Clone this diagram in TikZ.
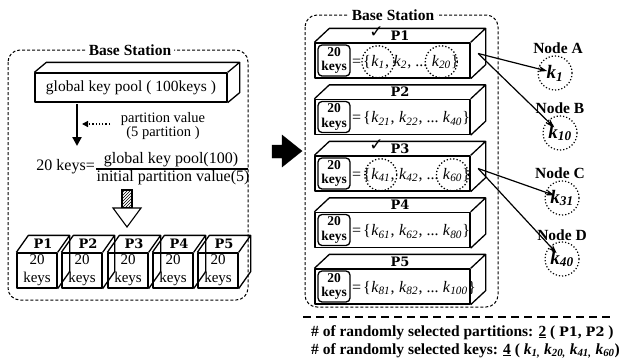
\documentclass[tikz,border=0pt]{standalone}
\usepackage{fontspec}
\setmainfont{Liberation Serif}
\newfontfamily\slabfont{DejaVu Serif}
\newfontfamily\symfont{DejaVu Sans}
\usetikzlibrary{arrows.meta,calc,patterns}

\newcommand\kk[1]{\textit{k}\textsubscript{\textit{#1}}}
\newcommand\bk[1]{\textbf{\textit{k}\textsubscript{\textit{#1}}}}
\newcommand\fs[1]{\fontsize{#1}{#1}\selectfont}

% top and right faces behind a front-face node
\newcommand\depthfaces[3]{%
  \draw[face] (#1.north west) -- ++(#2,#3) -- ($(#1.north east)+(#2,#3)$) -- (#1.north east);
  \draw[face] ($(#1.north east)+(#2,#3)$) -- ($(#1.south east)+(#2,#3)$) -- (#1.south east);
}

% "= {k_a, k_b, ... k_c}" built from pieces so the terms can be circled
\newcommand\keyrow[5]{%
  \node[seg] (#1e) at (#2) {=\kern2pt\{};
  \node[seg] (#1a) at (#1e.base east) {\kk{#3}};
  \node[seg] (#1m) at (#1a.base east) {,\kern4pt};
  \node[seg] (#1b) at (#1m.base east) {\kk{#4}};
  \node[seg] (#1n) at (#1b.base east) {,\kern4pt...\kern4pt};
  \node[seg] (#1c) at (#1n.base east) {\kk{#5}};
  \node[seg] (#1z) at (#1c.base east) {\}};
}

\tikzset{
  face/.style={draw, line width=1.3pt, line join=round},
  front/.style={face, inner sep=0, minimum width=#1},
  bsbox/.style={draw, line width=1pt, dash pattern=on 3pt off 2pt, rounded corners=12pt},
  bslabel/.style={fill=white, inner sep=3pt, font=\fs{15.5}\bfseries},
  plab/.style={font=\fs{13}\slabfont\bfseries, inner sep=0},
  keybox/.style={draw, line width=1.3pt, rounded corners=4pt, minimum width=32, minimum height=31,
    inner sep=0, align=center, font=\fontsize{13.5}{14.5}\selectfont\bfseries},
  seg/.style={inner sep=0, anchor=base west, font=\fs{16}},
  kcirc/.style={draw, dotted, line width=1.3pt},
  ncirc/.style={circle, draw, dotted, line width=1.2pt, minimum size=34, inner sep=0, font=\fs{19}},
  nlab/.style={font=\fs{15.5}\bfseries, inner sep=0},
  link/.style={line width=1.2pt, -{Stealth[length=9pt,width=6pt]}, shorten >=8pt},
  tick/.style={font=\fs{17}\symfont\bfseries, inner sep=0},
}

\begin{document}
\begin{tikzpicture}[x=1pt, y=-1pt]
\useasboundingbox (0,0) rectangle (632,360);

% ---------------- left: base station ----------------
\draw[bsbox] (8,50) rectangle (248,300);
\node[bslabel] (bsl) at (130,50) {Base Station};

\node[front=192, minimum height=29, font=\fs{15.5}] (gkp) at (131,87.5) {global key pool ( 100keys )};
\depthfaces{gkp}{12}{-10}

\coordinate (dtop) at (77,104);
\coordinate (dbot) at (77,146);
\draw[line width=2.2pt, -{Triangle[length=9pt,width=9pt]}] (dtop) -- (dbot);

\node[align=center, font=\fontsize{14.5}{14}\selectfont, inner sep=0] (pv) at (163,126) {partition value\\(5 partition )};
\coordinate (pvtip) at (82,124);
\coordinate (pvtail) at (110,124);
\draw[line width=1.3pt, dotted, -{Triangle[length=6pt,width=6pt]}] (pvtail) -- (pvtip);

\node[anchor=east, inner sep=0, font=\fs{16}] (twenty) at (95,167) {20 keys=};
\node[inner sep=0, font=\fs{16}] (num) at (171,160) {global key pool(100)};
\node[inner sep=0, font=\fs{16}] (den) at (173,178) {initial partition value(5)};
\draw[line width=1.1pt] (96,169) -- (248,169);

% hatched block arrow
\path[draw, line width=1.1pt, pattern=north east lines] (122,190) rectangle (132,208);
\draw[line width=1.1pt, fill=white] (113,208) -- (141,208) -- (127,227) -- cycle;

% five partition cubes
\foreach \i/\x in {1/37,2/82,3/128,4/173,5/218}{
  \node[front=40, minimum height=35, align=center, font=\fontsize{15}{18}\selectfont] (c\i) at (\x,270.5) {20\\keys};
  \depthfaces{c\i}{12}{-17}
  \node[plab] (cl\i) at ($(c\i.north)+(6,-8.5)$) {P\i};
}

% big arrow between the two stations
\draw[fill=black] (272,145) -- (282,145) -- (282,135) -- (302,151) -- (282,167) -- (282,158) -- (272,158) -- cycle;

% ---------------- right: base station ----------------
\draw[bsbox] (305,15) rectangle (498,307);
\node[bslabel] (bsr) at (393,15) {Base Station};

\foreach \i/\y in {1/60.5,2/117,3/173.5,4/230,5/286.5}{
  \node[front=155, minimum height=35] (s\i) at (392.5,\y) {};
  \depthfaces{s\i}{15}{-14}
  \node[plab] (sl\i) at ($(s\i.north)+(7.5,-7)$) {P\i};
  \node[keybox] (kb\i) at (334,\y) {20\\keys};
}

\keyrow{ra}{352,66}{1}{2}{20}
\keyrow{rb}{352,122.5}{21}{22}{40}
\keyrow{rc}{352,179}{41}{42}{60}
\keyrow{rd}{352,235.5}{61}{62}{80}
\keyrow{re}{352,292}{81}{82}{100}

\draw[kcirc] (rca.center) circle (16pt);
\draw[kcirc] (rcc.center) circle (16pt);
\draw[kcirc] (raa.center) circle (16pt);
\draw[kcirc] (rac.center) circle (16pt);

\node[tick] (chk1) at ($(sl1.west)+(-14,-3)$) {✓};
\node[tick] (chk3) at ($(sl3.west)+(-14,-3)$) {✓};

% sensor nodes
\node[ncirc] (na) at (555,73) {\bk{1}};
\node[ncirc] (nb) at (560,133) {\bk{10}};
\node[ncirc] (nc) at (562,198) {\bk{31}};
\node[ncirc] (nd) at (562,259) {\bk{40}};
\node[nlab] at (558,48) {Node A};
\node[nlab] at (560,108) {Node B};
\node[nlab] at (560,173) {Node C};
\node[nlab] at (562,235) {Node D};

\coordinate (o1) at ($(s1.east)+(7.5,-7)$);
\coordinate (o3) at ($(s3.east)+(7.5,-5)$);
\draw[link] (o1) -- (na.center);
\draw[link] (o1) -- (nb.center);
\draw[link] (o3) -- (nc.center);
\draw[link] (o3) -- (nd.center);

% summary
\draw[line width=1.8pt, dash pattern=on 8pt off 5pt] (303,317) -- (610,317);
\node[anchor=base west, inner sep=0, font=\fs{15.5}\bfseries] (sum1) at (311,336)
  {\# of randomly selected partitions: \underline{2} ( {\slabfont\fs{13}P1}, {\slabfont\fs{13}P2} )};
\node[anchor=base west, inner sep=0, font=\fs{15.5}\bfseries] (sum2) at (311,354)
  {\# of randomly selected keys: \underline{4} ( \kk{1,} \kk{20,} \kk{41,} \kk{60})};
\end{tikzpicture}
\end{document}
